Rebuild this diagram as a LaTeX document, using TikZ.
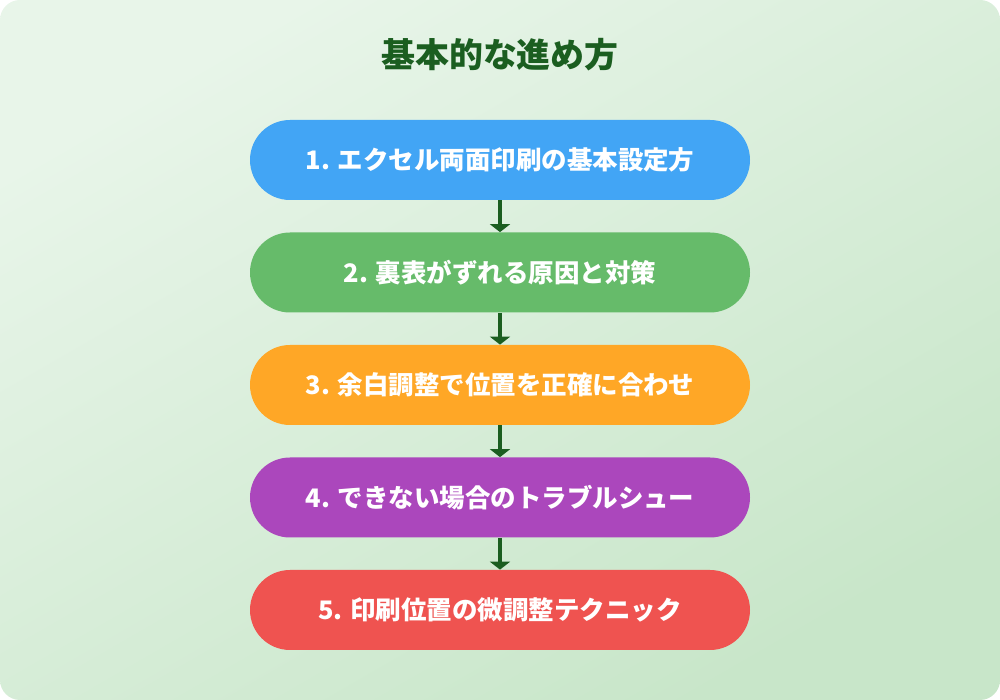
\documentclass[tikz,border=0pt]{standalone}
\usepackage{fontspec}
\setmainfont{Noto Sans CJK JP}
\usetikzlibrary{arrows.meta}

\definecolor{fundoA}{HTML}{E8F5E9}
\definecolor{fundoB}{HTML}{C8E6C9}
\definecolor{verde}{HTML}{1B5E20}
\definecolor{azul}{HTML}{42A5F5}
\definecolor{verdeclaro}{HTML}{66BB6A}
\definecolor{laranja}{HTML}{FFA726}
\definecolor{roxo}{HTML}{AB47BC}
\definecolor{vermelho}{HTML}{EF5350}

\begin{document}
\begin{tikzpicture}[> = {Triangle[width=4mm,length=1.6mm]}, shorten > = 0pt]
                \tikzstyle{etapa}=[rounded corners=8mm, minimum width=10cm, minimum height=1.6cm, inner sep=0pt, text=white, font=\bfseries\fontsize{14.5}{17}\selectfont]
                \tikzstyle{seta}=[->, line width=0.8mm, draw=verde]

                    % Fundo
                    \shade[rounded corners=4mm, top color=fundoA, bottom color=fundoB, shading angle=30] (0,0) rectangle (20,14);
                    \useasboundingbox (0,0) rectangle (20,14);

                    % Título
                    \node[text=verde, font=\bfseries\fontsize{19.3}{23}\selectfont] (titulo) at (10,12.9) {基本的な進め方};

                    % Nós
                    \node[etapa, fill=azul] (e1) at (10,10.8) {1. エクセル両面印刷の基本設定方};
                    \node[etapa, fill=verdeclaro] (e2) at (10,8.55) {2. 裏表がずれる原因と対策};
                    \node[etapa, fill=laranja] (e3) at (10,6.3) {3. 余白調整で位置を正確に合わせ};
                    \node[etapa, fill=roxo] (e4) at (10,4.05) {4. できない場合のトラブルシュー};
                    \node[etapa, fill=vermelho] (e5) at (10,1.8) {5. 印刷位置の微調整テクニック};

                    % Setas
                    \draw[seta] (e1) -- (e2);
                    \draw[seta] (e2) -- (e3);
                    \draw[seta] (e3) -- (e4);
                    \draw[seta] (e4) -- (e5);
            \end{tikzpicture}
\end{document}
